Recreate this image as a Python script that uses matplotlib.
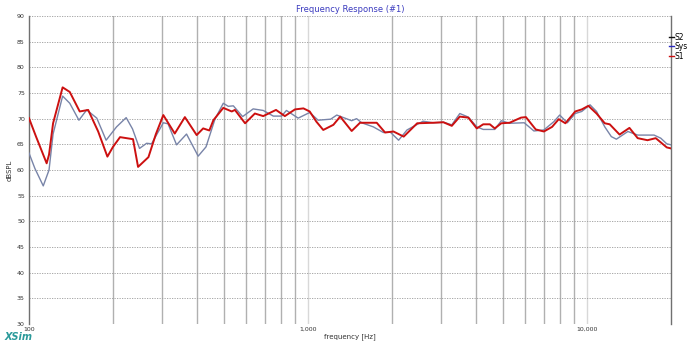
import matplotlib.pyplot as plt
from matplotlib.lines import Line2D
from matplotlib.ticker import FixedLocator, NullFormatter

# Data (frequency in Hz, level in dB SPL)
s1_freq = [100, 106, 115.7, 118, 122, 132, 140, 152, 163, 177, 191, 200, 212, 236, 246,
           268, 285, 303, 333, 362, 399, 421, 443, 458, 497, 533, 547, 595, 645, 691,
           768, 826, 898, 963, 1014, 1072, 1134, 1233, 1304, 1434, 1536, 1763, 1889,
           2024, 2203, 2462, 2806, 3057, 3276, 3500, 3755, 4026, 4246, 4485, 4670,
           4929, 5276, 5800, 6039, 6548, 7004, 7496, 7918, 8365, 9073, 9572, 10111,
           10817, 11577, 12060, 13080, 14190, 15190, 16470, 17630, 19310, 20000]
s1_db = [70.1, 66.5, 61.3, 63.0, 69.1, 76.1, 75.2, 71.4, 71.7, 67.5, 62.6, 64.5, 66.4, 66.0, 60.6,
         62.5, 67.0, 70.7, 67.1, 70.3, 66.8, 68.1, 67.7, 69.7, 72.1, 71.4, 71.7, 69.1, 71.0, 70.5,
         71.7, 70.5, 71.8, 72.0, 71.4, 69.4, 67.8, 68.8, 70.4, 67.6, 69.2, 69.2, 67.3,
         67.5, 66.5, 69.1, 69.2, 69.3, 68.6, 70.4, 70.2, 68.1, 68.9, 68.9, 68.1,
         69.1, 69.2, 70.2, 70.3, 67.9, 67.5, 68.4, 69.9, 69.1, 71.4, 71.8, 72.5,
         71.0, 69.1, 68.9, 66.9, 68.2, 66.2, 65.8, 66.2, 64.4, 64.2]

sys_freq = [100, 105, 112.5, 118, 122, 132, 140, 151, 161, 175, 189, 206, 223, 235, 249,
            264, 275, 303, 315, 338, 367, 404, 431, 464, 497, 518, 540, 583, 636, 691,
            751, 804, 837, 922, 1014, 1087, 1206, 1268, 1434, 1493, 1557, 1714, 1863,
            1970, 2112, 2264, 2584, 2806, 3057, 3276, 3500, 3755, 4026, 4246, 4670,
            4929, 5276, 5955, 6450, 7004, 7600, 7980, 8500, 9073, 9572, 10250, 10817,
            11577, 12220, 12740, 14010, 15190, 17390, 18370, 19310, 20000]
sys_db = [63.3, 60.3, 56.9, 60.0, 67.0, 74.4, 73.0, 69.7, 71.7, 70.1, 65.8, 68.4, 70.2, 68.0, 64.2,
          65.2, 65.1, 69.2, 69.0, 64.9, 67.0, 62.7, 64.5, 69.9, 73.0, 72.4, 72.5, 70.4, 71.9, 71.6,
          70.5, 70.5, 71.6, 70.1, 71.2, 69.7, 69.9, 70.7, 69.6, 70.0, 69.2, 68.4, 67.3,
          67.4, 65.8, 67.8, 69.5, 69.2, 69.3, 68.8, 71.0, 70.3, 68.4, 67.9, 67.9,
          69.6, 69.1, 69.2, 67.6, 67.8, 69.4, 70.7, 69.2, 71.0, 71.4, 72.7, 71.4,
          68.4, 66.5, 66.0, 67.5, 66.8, 66.8, 66.2, 65.1, 64.9]

y_ticks = [30, 35, 40, 45, 50, 55, 60, 65, 70, 75, 80, 85, 90]
x_ticks = [100, 1000, 10000]
x_tick_labels = ['100', '1,000', '10,000']
minor_freqs = [200, 300, 400, 500, 600, 700, 800, 900,
               2000, 3000, 4000, 5000, 6000, 7000, 8000, 9000]

fig = plt.figure(figsize=(6.9, 3.45), dpi=100)
ax = fig.add_axes([0.042, 0.061, 0.9305, 0.8926])

ax.set_xscale('log')
ax.set_xlim(100, 20000)
ax.set_ylim(30, 90)

# grid: solid vertical lines at minor decades, dotted horizontal lines
for f in minor_freqs:
    ax.axvline(f, color='#b0b0b0', linewidth=1.0, zorder=1)
for f in [1000, 10000]:
    ax.axvline(f, color='#d8d8d8', linewidth=1.0, zorder=1)
for y in y_ticks:
    ax.axhline(y, color='#9a9a9a', linewidth=0.6, linestyle=(0, (1.5, 1.5)), zorder=1)

ax.plot(sys_freq, sys_db, color='#7884a8', linewidth=1.0, zorder=3)
ax.plot(s1_freq, s1_db, color='#cc1010', linewidth=1.4, zorder=4)

ax.xaxis.set_major_locator(FixedLocator(x_ticks))
ax.set_xticklabels(x_tick_labels)
ax.xaxis.set_minor_formatter(NullFormatter())
ax.tick_params(axis='x', which='both', length=0, labelsize=4.5, pad=2, colors='#333333')
ax.set_yticks(y_ticks)
ax.tick_params(axis='y', length=0, labelsize=4.5, pad=3, colors='#333333')

for side in ['top', 'bottom']:
    ax.spines[side].set_visible(False)
ax.spines['left'].set_color('#707070')
ax.spines['right'].set_color('#707070')
ax.spines['left'].set_linewidth(1.0)
ax.spines['right'].set_linewidth(1.0)

ax.set_xlabel('frequency [Hz]', fontsize=5, color='#333333', labelpad=1)
ax.set_ylabel('dBSPL', fontsize=5, color='#333333', labelpad=3)
ax.set_title('Frequency Response (#1)', fontsize=6, color='#3b3bbf', pad=3)

handles = [Line2D([], [], color='#111111', linewidth=1.0),
           Line2D([], [], color='#2a2ac0', linewidth=1.0),
           Line2D([], [], color='#cc1010', linewidth=1.0)]
fig.legend(handles, ['S2', 'Sys', 'S1'], loc='upper right', bbox_to_anchor=(0.997, 0.905),
           frameon=False, fontsize=5.5, handlelength=0.6, handletextpad=0.15,
           labelspacing=0.05, borderpad=0, borderaxespad=0)

fig.text(0.007, 0.015, 'XSim', fontsize=7, color='#2a9a9a', style='italic', weight='bold')

fig.savefig('out.png', dpi=100, facecolor='white')
